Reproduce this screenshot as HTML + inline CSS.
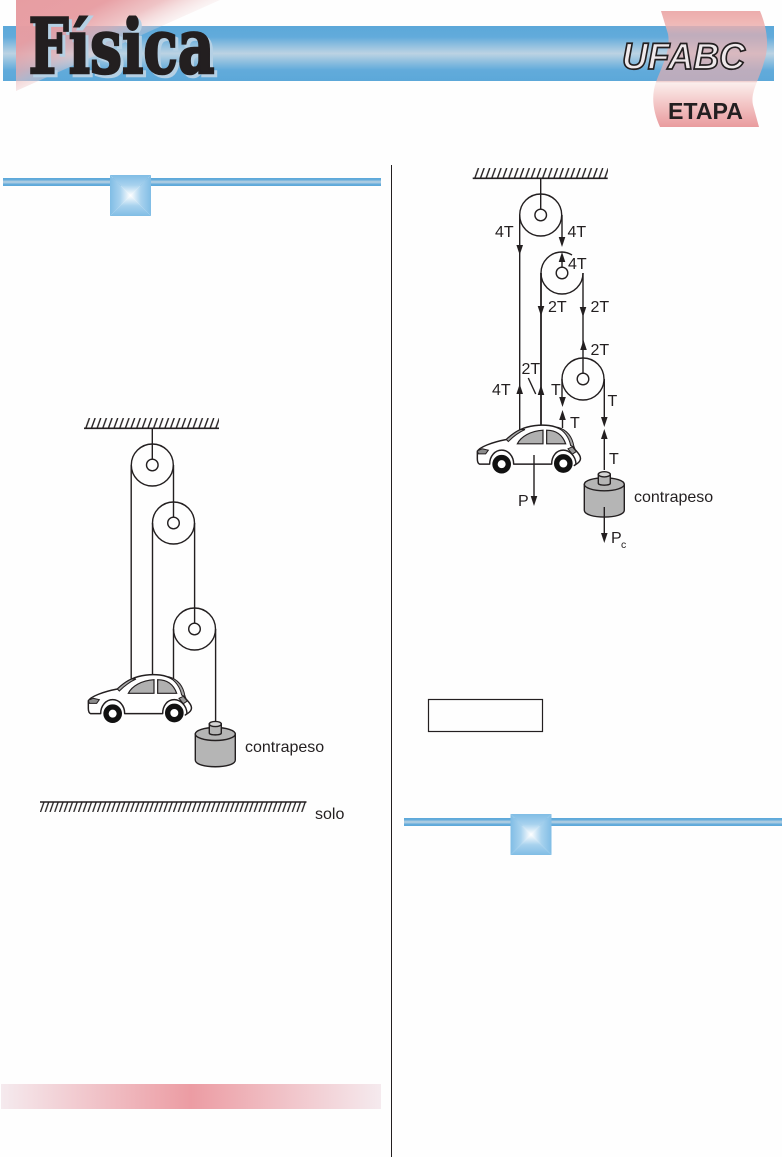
<!DOCTYPE html>
<html><head><meta charset="utf-8">
<style>
html,body{margin:0;padding:0;background:#fefefe;}
svg{display:block;}
text{font-family:"Liberation Sans",sans-serif;fill:#231f20;}
.l{font-size:16px;}
</style></head><body>
<svg width="782" height="1157" viewBox="0 0 782 1157" xmlns="http://www.w3.org/2000/svg">
<defs>
<clipPath id="ttl"><rect x="20" y="15.5" width="210" height="70"/></clipPath>
<linearGradient id="bar" x1="0" y1="0" x2="0" y2="1">
<stop offset="0" stop-color="#5ca8d9"/><stop offset=".2" stop-color="#62abdb"/><stop offset=".5" stop-color="#bcd3e3"/><stop offset=".8" stop-color="#62abdb"/><stop offset="1" stop-color="#5ca8d9"/>
</linearGradient>
<linearGradient id="tri" gradientUnits="userSpaceOnUse" x1="16" y1="0" x2="57" y2="82">
<stop offset="0" stop-color="#e79da2"/><stop offset=".45" stop-color="#e79da2" stop-opacity=".97"/><stop offset=".72" stop-color="#eab0b3" stop-opacity=".75"/><stop offset="1" stop-color="#f3dcdc" stop-opacity=".25"/>
</linearGradient>
<linearGradient id="rib" x1="0" y1="0" x2="0" y2="1">
<stop offset="0" stop-color="#eba8a8" stop-opacity=".95"/><stop offset=".1" stop-color="#eeb0ae" stop-opacity=".9"/><stop offset=".2" stop-color="#e6aeb0" stop-opacity=".72"/><stop offset=".6" stop-color="#e6aeb0" stop-opacity=".68"/><stop offset=".62" stop-color="#fbeeec"/><stop offset=".8" stop-color="#f3c6c6"/><stop offset="1" stop-color="#e99b9e"/>
</linearGradient>
<linearGradient id="pink" x1="0" y1="0" x2="1" y2="0">
<stop offset="0" stop-color="#f5eaee"/><stop offset=".5" stop-color="#ec9ca3"/><stop offset="1" stop-color="#f5eaee"/>
</linearGradient>
<linearGradient id="sT" x1="0" y1="0" x2="0" y2="1"><stop offset="0" stop-color="#80bde5"/><stop offset=".5" stop-color="#a8d2ee"/><stop offset="1" stop-color="#ffffff"/></linearGradient>
<linearGradient id="sB" x1="0" y1="1" x2="0" y2="0"><stop offset="0" stop-color="#80bde5"/><stop offset=".5" stop-color="#a8d2ee"/><stop offset="1" stop-color="#ffffff"/></linearGradient>
<linearGradient id="sL" x1="0" y1="0" x2="1" y2="0"><stop offset="0" stop-color="#80bde5"/><stop offset=".5" stop-color="#a8d2ee"/><stop offset="1" stop-color="#ffffff"/></linearGradient>
<linearGradient id="sR" x1="1" y1="0" x2="0" y2="0"><stop offset="0" stop-color="#80bde5"/><stop offset=".5" stop-color="#a8d2ee"/><stop offset="1" stop-color="#ffffff"/></linearGradient>
<pattern id="h1" patternUnits="userSpaceOnUse" width="5.65" height="11" x="85" y="418">
<path d="M0.5,11 L4.5,0" stroke="#231f20" stroke-width="1.4" fill="none"/>
</pattern>
<pattern id="h2" patternUnits="userSpaceOnUse" width="5.65" height="11" x="474" y="168">
<path d="M0.5,11 L4.5,0" stroke="#231f20" stroke-width="1.4" fill="none"/>
</pattern>
<pattern id="h3" patternUnits="userSpaceOnUse" width="4.75" height="11" x="40" y="802">
<path d="M0.5,10 L4,0" stroke="#231f20" stroke-width="1.3" fill="none"/>
</pattern>
<g id="sq">
<polygon points="0,0 41,0 20.5,20.5" fill="url(#sT)"/>
<polygon points="0,41 41,41 20.5,20.5" fill="url(#sB)"/>
<polygon points="0,0 0,41 20.5,20.5" fill="url(#sL)"/>
<polygon points="41,0 41,41 20.5,20.5" fill="url(#sR)"/>
</g>
<g id="car" transform="translate(80 665) scale(.3333)">
<path d="M25,130 L25,108 C30,95 70,80 112,72 C125,60 140,48 155,42 C180,30 215,27 240,30 C270,34 295,50 305,70 C312,85 314,95 318,102 C330,115 338,125 333,135 C330,142 322,146 316,150 L321,146 C320,120 300,104 283,104 C262,104 248,122 248,146 L134,146 C134,122 118,104 98,104 C78,104 62,122 62,146 L32,146 C27,144 25,138 25,130 Z" fill="#fff" stroke="#231f20" stroke-width="4.4" stroke-linejoin="round"/>
<path d="M112,72 C125,60 140,48 155,42 L168,42 C150,50 130,66 118,78 Z" fill="#a8a8a8" stroke="#231f20" stroke-width="3"/>
<path d="M145,85 C155,64 185,46 222,44 L222,85 Z" fill="#b0b0b0" stroke="#231f20" stroke-width="3.6"/>
<path d="M233,44 C260,44 280,56 290,85 L233,85 Z" fill="#b0b0b0" stroke="#231f20" stroke-width="3.6"/>
<path d="M265,35 C290,42 310,60 315,95 L305,90 C300,65 288,48 265,35 Z" fill="#a8a8a8" stroke="#231f20" stroke-width="3"/>
<path d="M25,106 L40,100 L58,104 L50,115 L28,115 Z" fill="#8c8c8c" stroke="#231f20" stroke-width="3"/>
<path d="M297,100 L310,94 L322,108 L310,116 Z" fill="#9a9a9a" stroke="#231f20" stroke-width="3"/>
<circle cx="98" cy="146" r="20" fill="#fff" stroke="#111" stroke-width="16"/>
<circle cx="283" cy="144" r="20" fill="#fff" stroke="#111" stroke-width="16"/>
</g>
<g id="cw">
<path d="M195.3,734 L195.3,760 C195.3,769 235.3,769 235.3,760 L235.3,734 Z" fill="#b5b5b5" stroke="#231f20" stroke-width="1.4"/>
<ellipse cx="215.3" cy="734" rx="20" ry="6.5" fill="#b5b5b5" stroke="#231f20" stroke-width="1.4"/>
<path d="M209.3,724 L209.3,733 C209.3,735.5 221.3,735.5 221.3,733 L221.3,724 Z" fill="#b5b5b5" stroke="#231f20" stroke-width="1.4"/>
<ellipse cx="215.3" cy="724" rx="6" ry="2.6" fill="#d5d5d5" stroke="#231f20" stroke-width="1.4"/>
</g>
<path id="dn" d="M0,0 L-3.3,-10 L3.3,-10 Z" fill="#231f20"/>
<path id="up" d="M0,0 L-3.3,10 L3.3,10 Z" fill="#231f20"/>
</defs>

<!-- header -->
<rect x="3" y="26" width="771" height="55" fill="url(#bar)"/>
<polygon points="16,0 220,0 16,91" fill="url(#tri)"/>
<path d="M661,11 L760,11 C768,30 769,48 764,62 C760,78 750,92 753,105 L759,127 L660,127 C653,112 651,96 656,82 C662,66 671,50 668,34 Z" fill="url(#rib)"/>
<g clip-path="url(#ttl)">
<text x="31.5" y="76" font-size="76" font-weight="700" textLength="186" lengthAdjust="spacingAndGlyphs" style="font-family:'DejaVu Serif',serif;fill:#b5d0e4;stroke:#b5d0e4;stroke-width:2.6">Física</text>
<text x="28.5" y="73" font-size="76" font-weight="700" textLength="186" lengthAdjust="spacingAndGlyphs" style="font-family:'DejaVu Serif',serif;fill:#231f20;stroke:#231f20;stroke-width:2.6">Física</text>
</g>
<text x="622" y="69" font-size="37" font-weight="700" font-style="italic" textLength="123" lengthAdjust="spacingAndGlyphs" style="fill:#eee8ea;stroke:#231f20;stroke-width:1.7">UFABC</text>
<text x="668" y="119" font-size="23" font-weight="700" textLength="75" lengthAdjust="spacingAndGlyphs">ETAPA</text>

<!-- column rule -->
<rect x="391" y="165" width="1" height="992" fill="#231f20"/>

<!-- section bars -->
<rect x="3" y="178" width="378" height="8" fill="url(#bar)"/>
<use href="#sq" transform="translate(110 175)"/>
<rect x="404" y="818" width="378" height="8" fill="url(#bar)"/>
<use href="#sq" transform="translate(510.5 814)"/>
<rect x="1" y="1084" width="380" height="25" fill="url(#pink)"/>
<rect x="428.5" y="699.5" width="114" height="32" fill="none" stroke="#231f20" stroke-width="1.2"/>

<!-- left diagram -->
<rect x="85" y="418" width="134" height="10" fill="url(#h1)"/>
<line x1="84" y1="428.3" x2="219" y2="428.3" stroke="#231f20" stroke-width="1.6"/>
<g fill="none" stroke="#231f20" stroke-width="1.4">
<circle cx="152.3" cy="465" r="21"/><circle cx="152.3" cy="465" r="5.8"/>
<circle cx="173.5" cy="523" r="21"/><circle cx="173.5" cy="523" r="5.8"/>
<circle cx="194.5" cy="629" r="21"/><circle cx="194.5" cy="629" r="5.8"/>
<path d="M152.3,428 V459.2"/>
<path d="M131.2,465 V680"/>
<path d="M173.5,465 V517.2"/>
<path d="M152.5,523 V677"/>
<path d="M194.6,523 V623.2"/>
<path d="M173.5,629 V680"/>
<path d="M215.6,629 V722"/>
</g>
<use href="#car"/>
<use href="#cw"/>
<text class="l" x="245" y="752">contrapeso</text>
<rect x="40" y="802" width="266" height="10" fill="url(#h3)"/>
<line x1="40" y1="802" x2="306.5" y2="802" stroke="#231f20" stroke-width="1.6"/>
<text class="l" x="315" y="819">solo</text>

<!-- right diagram -->
<rect x="474" y="168" width="134" height="10" fill="url(#h2)"/>
<line x1="472.7" y1="178.3" x2="607.7" y2="178.3" stroke="#231f20" stroke-width="1.6"/>
<g fill="none" stroke="#231f20" stroke-width="1.4">
<circle cx="540.7" cy="215" r="21"/><circle cx="540.7" cy="215" r="5.8"/>
<path d="M541,273 A21,21 0 0 0 583,273"/>
<path d="M541,273 A21,21 0 0 1 562,252 A21,21 0 0 1 572,255"/>
<circle cx="562" cy="273" r="5.8"/>
<circle cx="583" cy="379" r="21"/><circle cx="583" cy="379" r="5.8"/>
<path d="M540.7,178 V209.2"/>
<path d="M519.7,215 V430"/>
<path d="M562,215 V240"/>
<path d="M562,255 V267.2"/>
<path d="M583,273 V373.2"/>
<path d="M562,379 V400"/>
<path d="M562.5,414 V428"/>
<path d="M604.3,379 V420"/>
<path d="M604.3,434 V470"/>
<path d="M528.3,378 L535.7,394"/>
</g>
<path d="M541,273 V428" fill="none" stroke="#231f20" stroke-width="1.8"/>
<use href="#car" transform="translate(389 -249.5)"/>
<use href="#cw" transform="translate(389 -249.7)"/>
<path d="M534,455 V498 M604.3,507 V535" fill="none" stroke="#231f20" stroke-width="1.4"/>
<use href="#dn" x="519.7" y="255"/>
<use href="#dn" x="562" y="247"/>
<use href="#up" x="562" y="252"/>
<use href="#dn" x="541" y="316"/>
<use href="#dn" x="583" y="317"/>
<use href="#up" x="583.5" y="340"/>
<use href="#up" x="519.7" y="384"/>
<use href="#up" x="541" y="385"/>
<use href="#dn" x="562.5" y="407"/>
<use href="#up" x="562.5" y="410"/>
<use href="#dn" x="604.3" y="427"/>
<use href="#up" x="604.3" y="429"/>
<use href="#dn" x="534" y="506"/>
<use href="#dn" x="604.3" y="543"/>
<text class="l" x="495" y="237">4T</text>
<text class="l" x="567.5" y="237">4T</text>
<text class="l" x="568" y="269">4T</text>
<text class="l" x="548" y="312">2T</text>
<text class="l" x="590.5" y="312">2T</text>
<text class="l" x="590.5" y="355">2T</text>
<text class="l" x="521.5" y="374">2T</text>
<text class="l" x="492" y="395">4T</text>
<text class="l" x="551" y="395">T</text>
<text class="l" x="607.5" y="406">T</text>
<text class="l" x="570" y="428">T</text>
<text class="l" x="609" y="464">T</text>
<text class="l" x="518" y="506">P</text>
<text class="l" x="611" y="543">P</text>
<text x="621" y="548" font-size="10.5">c</text>
<text class="l" x="634" y="502">contrapeso</text>
</svg>
</body></html>
